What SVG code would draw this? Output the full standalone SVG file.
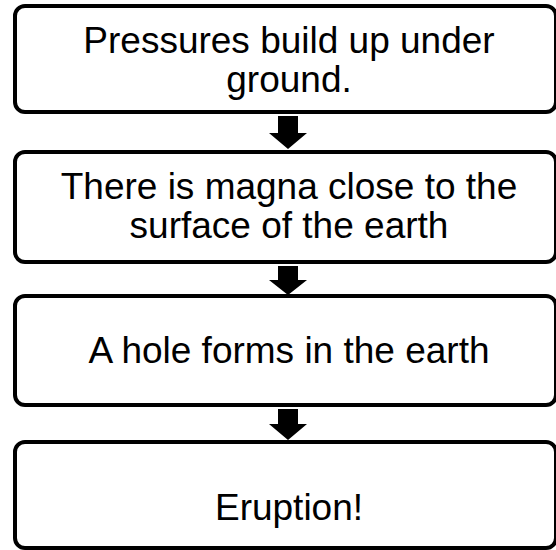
<svg xmlns="http://www.w3.org/2000/svg" width="556" height="550" viewBox="0 0 556 550">
<style>
.box{fill:#fff;stroke:#000;stroke-width:4}
.t{font-family:"Liberation Sans",Arial,sans-serif;font-size:37px;fill:#000;text-anchor:middle}
.arr{fill:#000}
</style>
<rect width="556" height="550" fill="#fff"/>
<g id="node1"><rect class="box" x="15" y="6" width="541" height="106" rx="10"/>
<text class="t" x="289" y="53">Pressures build up under</text>
<text class="t" x="289" y="92">ground.</text></g>
<g id="node2"><rect class="box" x="15" y="152" width="541" height="110" rx="10"/>
<text class="t" x="289" y="199">There is magna close to the</text>
<text class="t" x="289" y="238">surface of the earth</text></g>
<g id="node3"><rect class="box" x="15" y="296" width="541" height="109" rx="10"/>
<text class="t" x="289" y="363">A hole forms in the earth</text></g>
<g id="node4"><rect class="box" x="15" y="442" width="541" height="106" rx="10"/>
<text class="t" x="289" y="520">Eruption!</text></g>
<g id="connectors">
<polygon class="arr" points="278,116 298,116 298,133 307,133 288,149 269,133 278,133"/>
<polygon class="arr" points="278,266 298,266 298,280 307,280 288,295 269,280 278,280"/>
<polygon class="arr" points="278,409 298,409 298,424 307,424 288,440 269,424 278,424"/>
</g>
</svg>
